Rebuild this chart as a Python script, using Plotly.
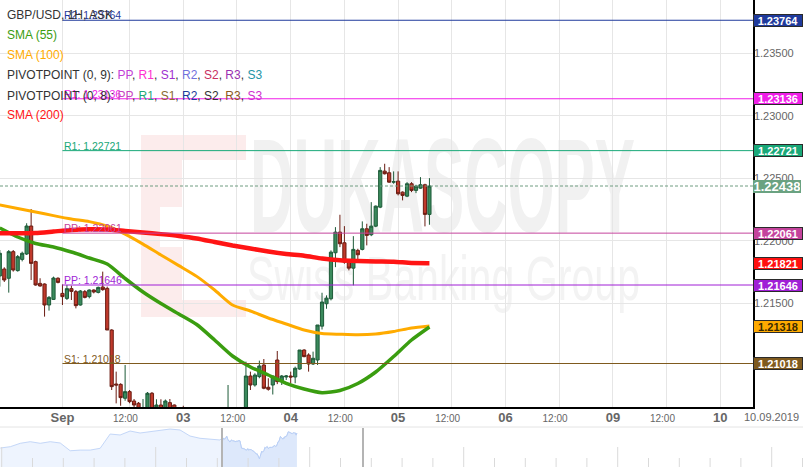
import base64
import pandas as pd
import plotly.graph_objects as go

# ---------------- DATA ----------------
# hourly GBP/USD candles, first bar = 2019-08-30 07:00 (weekend hours skipped)
open_ = [1.21718, 1.21774, 1.21700, 1.21913, 1.21761, 1.21851, 1.21894, 1.22118, 1.21833, 1.21659,
         1.21654, 1.21486, 1.21531, 1.21700, 1.21579, 1.21539, 1.21617, 1.21593, 1.21486, 1.21593,
         1.21553, 1.21606, 1.21587, 1.21630, 1.21619, 1.21286, 1.20854, 1.20851, 1.20740, 1.20793,
         1.20718, 1.20700, 1.20600, 1.20600, 1.20780, 1.20640, 1.20686, 1.20640, 1.20705, 1.20686,
         1.20600, 1.20560, 1.20480, 1.20400, 1.20300, 1.20200, 1.20250, 1.20100, 1.19900, 1.19700,
         1.19950, 1.20150, 1.20500, 1.20400, 1.20500, 1.20600, 1.20918, 1.20846, 1.20913, 1.21006,
         1.20828, 1.20846, 1.21046, 1.20880, 1.20910, 1.20918, 1.20910, 1.20974, 1.21126, 1.21086,
         1.21014, 1.21046, 1.21317, 1.21496, 1.21536, 1.21904, 1.22069, 1.21984, 1.21829, 1.21781,
         1.21923, 1.21931, 1.22096, 1.22048, 1.22117, 1.22269, 1.22557, 1.22544, 1.22469, 1.22477,
         1.22389, 1.22357, 1.22456, 1.22403, 1.22421, 1.22448, 1.22211]
high_ = [1.21926, 1.21788, 1.21926, 1.21926, 1.21886, 1.21913, 1.22140, 1.22254, 1.21841, 1.21700,
         1.21659, 1.21558, 1.21713, 1.21708, 1.21651, 1.21646, 1.21641, 1.21606, 1.21606, 1.21606,
         1.21611, 1.21611, 1.21633, 1.21753, 1.21633, 1.21292, 1.20953, 1.20860, 1.21006, 1.20806,
         1.20734, 1.20710, 1.20734, 1.20790, 1.20790, 1.20732, 1.20732, 1.20730, 1.20734, 1.20690,
         1.20640, 1.20680, 1.20520, 1.20450, 1.20350, 1.20300, 1.20280, 1.20150, 1.20000, 1.20000,
         1.20200, 1.20846, 1.20600, 1.20550, 1.20650, 1.21033, 1.20953, 1.20940, 1.21041, 1.21054,
         1.20900, 1.20900, 1.21118, 1.20926, 1.20926, 1.20953, 1.20993, 1.21126, 1.21132, 1.21100,
         1.21113, 1.21326, 1.21584, 1.21563, 1.21923, 1.22109, 1.22208, 1.22117, 1.21843, 1.22037,
         1.21936, 1.22155, 1.22136, 1.22309, 1.22282, 1.22589, 1.22616, 1.22589, 1.22555, 1.22555,
         1.22395, 1.22469, 1.22469, 1.22448, 1.22509, 1.22456, 1.22501]
low_ = [1.21633, 1.21670, 1.21585, 1.21753, 1.21753, 1.21835, 1.21886, 1.21686, 1.21641, 1.21633,
        1.21393, 1.21441, 1.21526, 1.21659, 1.21486, 1.21526, 1.21526, 1.21459, 1.21481, 1.21539,
        1.21539, 1.21579, 1.21579, 1.21600, 1.21286, 1.20806, 1.20699, 1.20680, 1.20720, 1.20700,
        1.20660, 1.20580, 1.20560, 1.20580, 1.20590, 1.20620, 1.20610, 1.20620, 1.20600, 1.20560,
        1.20500, 1.20450, 1.20350, 1.20250, 1.20150, 1.20100, 1.20050, 1.19800, 1.19580, 1.19650,
        1.19850, 1.20100, 1.20300, 1.20250, 1.20450, 1.20550, 1.20806, 1.20833, 1.20900, 1.20812,
        1.20801, 1.20770, 1.20853, 1.20846, 1.20886, 1.20860, 1.20860, 1.20968, 1.21068, 1.20953,
        1.21006, 1.21006, 1.21290, 1.21456, 1.21523, 1.21789, 1.21949, 1.21816, 1.21763, 1.21643,
        1.21843, 1.21923, 1.21963, 1.22037, 1.22109, 1.22261, 1.22530, 1.22464, 1.22456, 1.22363,
        1.22323, 1.22349, 1.22389, 1.22381, 1.22416, 1.22115, 1.22128]
close_ = [1.21900, 1.21686, 1.21913, 1.21766, 1.21873, 1.21900, 1.22118, 1.21819, 1.21646, 1.21638,
          1.21486, 1.21547, 1.21702, 1.21667, 1.21553, 1.21617, 1.21595, 1.21481, 1.21598, 1.21547,
          1.21606, 1.21590, 1.21627, 1.21609, 1.21286, 1.20833, 1.20846, 1.20745, 1.20793, 1.20713,
          1.20686, 1.20620, 1.20640, 1.20780, 1.20620, 1.20686, 1.20640, 1.20718, 1.20620, 1.20600,
          1.20550, 1.20480, 1.20400, 1.20300, 1.20200, 1.20250, 1.20100, 1.19900, 1.19700, 1.19950,
          1.20150, 1.20500, 1.20400, 1.20500, 1.20600, 1.20918, 1.20846, 1.20926, 1.20998, 1.20820,
          1.20812, 1.20918, 1.20873, 1.20918, 1.20918, 1.20910, 1.20980, 1.21126, 1.21073, 1.21014,
          1.21060, 1.21326, 1.21510, 1.21541, 1.21909, 1.22069, 1.21976, 1.21829, 1.21781, 1.21931,
          1.21888, 1.22096, 1.22043, 1.22117, 1.22277, 1.22563, 1.22536, 1.22469, 1.22472, 1.22376,
          1.22363, 1.22456, 1.22403, 1.22437, 1.22448, 1.22211, 1.22438]

# moving averages sampled every 4 bars (bar 0, 4, 8, ... 96)
sma_step = 4
sma55 = [1.22102, 1.22030, 1.21978, 1.21950, 1.21910, 1.21862, 1.21814, 1.21698, 1.21590, 1.21498,
         1.21414, 1.21330, 1.21206, 1.21078, 1.20990, 1.20926, 1.20859, 1.20814, 1.20785, 1.20802,
         1.20858, 1.20950, 1.21074, 1.21206, 1.21310]
sma100 = [1.22286, 1.22258, 1.22230, 1.22201, 1.22174, 1.22153, 1.22118, 1.22053, 1.21973, 1.21886,
          1.21801, 1.21715, 1.21606, 1.21486, 1.21438, 1.21382, 1.21334, 1.21286, 1.21258, 1.21252,
          1.21248, 1.21254, 1.21274, 1.21302, 1.21318]
sma200 = [1.22060, 1.22060, 1.22062, 1.22074, 1.22086, 1.22092, 1.22090, 1.22078, 1.22066, 1.22053,
          1.22038, 1.22018, 1.21990, 1.21962, 1.21938, 1.21914, 1.21894, 1.21880, 1.21858, 1.21844,
          1.21838, 1.21834, 1.21832, 1.21822, 1.21821]

pivot_start = "2019-09-01 21:00"
pivot_names = ["R2", "R1", "R1", "PP", "PP", "S1"]
pivot_levels = [1.23764, 1.23136, 1.22721, 1.22061, 1.21646, 1.21018]
pivot_colors = ["#1f3a9c", "#f01ee8", "#19a878", "#c4439c", "#a01fd6", "#7f5a1e"]

last_price = 1.22438
sma200_last = 1.21821
sma100_last = 1.21318

tick_times = ["2019-09-01 21:00", "2019-09-02 12:00", "2019-09-03 00:00", "2019-09-03 12:00",
              "2019-09-04 00:00", "2019-09-04 12:00", "2019-09-05 00:00", "2019-09-05 12:00",
              "2019-09-06 00:00", "2019-09-06 12:00", "2019-09-09 00:00", "2019-09-09 12:00",
              "2019-09-10 00:00"]
tick_labels = ["Sep", "12:00", "03", "12:00", "04", "12:00", "05", "12:00", "06", "12:00",
               "09", "12:00", "10"]
y_ticks = [1.215, 1.220, 1.225, 1.230, 1.235]

# navigator history (closes before the main window, evenly spaced samples)
nav_hist = [1.2085, 1.2099, 1.2135, 1.2152, 1.2135, 1.2152, 1.2138, 1.2056, 1.2063, 1.2063,
            1.2082, 1.2233, 1.2223, 1.2265, 1.2244, 1.2258, 1.2276, 1.2286, 1.2276, 1.2212,
            1.2188, 1.2177, 1.2170]
nav_hist_step = 12.8

# ---------------- TIME INDEX (weekend gap removed) ----------------
rng = pd.date_range("2019-08-30 07:00", "2019-09-10 23:00", freq="h")


def trading(t):
    wd = t.weekday()
    if wd == 5:
        return False
    if wd == 4 and t.hour >= 21:
        return False
    if wd == 6 and t.hour < 21:
        return False
    return True


times = [t for t in rng if trading(t)]
pos = {t.strftime("%Y-%m-%d %H:%M"): i for i, t in enumerate(times)}
bar_x = list(range(len(open_)))

X0, X1 = 0.045, 168.3
Y0, Y1 = 1.20670, 1.23926
W, H = 803, 467
PX = 753 / W  # right edge of plot in paper units

FONT = "Liberation Sans, Arial, sans-serif"

fig = go.Figure()

# watermark (very faint)
svg = f"""<svg xmlns='http://www.w3.org/2000/svg' width='{W}' height='{H}' viewBox='0 0 {W} {H}'>
<path fill='#fcecec' fill-rule='evenodd' d='M141,135 H246 V317 H141 Z M182,160 H246 V300 H182 Z M160,207 H182 V247 H160 Z'/>
<text x='250' y='232' font-family='Liberation Sans, Arial' font-weight='bold' font-size='133' fill='#f1f1f1' textLength='385' lengthAdjust='spacingAndGlyphs'>DUKASCOPY</text>
<text x='247' y='300' font-family='Liberation Sans, Arial' font-size='63' fill='#f3f3f3' textLength='393' lengthAdjust='spacingAndGlyphs'>Swiss Banking Group</text>
</svg>"""
img_src = "data:image/svg+xml;base64," + base64.b64encode(svg.encode()).decode()

# navigator
nav_x_hist = [-(len(nav_hist) - 1 - k) * nav_hist_step - 2.6 for k in range(len(nav_hist))]
fig.add_trace(go.Scatter(x=nav_x_hist + bar_x, y=nav_hist + close_, mode="lines",
                         line=dict(color="#c4d7f8", width=1), fill="tozeroy",
                         fillcolor="#eef4fe", xaxis="x2", yaxis="y2", hoverinfo="skip"))
fig.add_trace(go.Scatter(x=bar_x, y=close_, mode="lines",
                         line=dict(color="#b9cff6", width=1), fill="tozeroy",
                         fillcolor="#dde8fb", xaxis="x2", yaxis="y2", hoverinfo="skip"))

# candles
fig.add_trace(go.Candlestick(
    x=bar_x, open=open_, high=high_, low=low_, close=close_,
    increasing=dict(line=dict(color="#1d5a38", width=1), fillcolor="#3a8a5c"),
    decreasing=dict(line=dict(color="#6a1c12", width=1), fillcolor="#c0392b"),
    whiskerwidth=0, xaxis="x", yaxis="y", hoverinfo="skip"))

sma_x = [i * sma_step for i in range(len(sma55))]
for vals, col, w in [(sma100, "#ffab00", 3), (sma55, "#3a9d10", 3.5), (sma200, "#ff1414", 4.5)]:
    fig.add_trace(go.Scatter(x=sma_x, y=vals, mode="lines",
                             line=dict(color=col, width=w, shape="spline", smoothing=0.6),
                             xaxis="x", yaxis="y", hoverinfo="skip"))

shapes = []
annotations = []
p0 = pos[pivot_start]
for name, lvl, col in zip(pivot_names, pivot_levels, pivot_colors):
    shapes.append(dict(type="line", xref="x", yref="y", x0=p0, x1=X1, y0=lvl, y1=lvl,
                       line=dict(color=col, width=1)))
    annotations.append(dict(xref="x", yref="y", x=p0, y=lvl, xanchor="left", yanchor="bottom",
                            text=f"{name}: {lvl:.5f}", showarrow=False, yshift=-3,
                            font=dict(family=FONT, size=10.5, color=col)))

# current price dashed line
shapes.append(dict(type="line", xref="paper", yref="y", x0=0, x1=PX, y0=last_price, y1=last_price,
                   line=dict(color="#6f9c80", width=1, dash="3px,2px")))

# navigator decorations
nav_top = 40 / H
shapes.append(dict(type="line", xref="paper", yref="paper", x0=0, x1=1, y0=nav_top, y1=nav_top,
                   line=dict(color="#e4e4e4", width=1)))
for k in range(27):
    xx = (1.7 + 30.8 * k) / W
    ytop = 20 / H if k % 5 == 0 else 9 / H
    shapes.append(dict(type="line", xref="paper", yref="paper", x0=xx, x1=xx, y0=0, y1=ytop,
                       line=dict(color="#dadada", width=1)))
for hx in (222, 363):
    shapes.append(dict(type="line", xref="paper", yref="paper", x0=hx / W, x1=hx / W, y0=0,
                       y1=39 / H, line=dict(color="#b4b4b4", width=2)))


def right_label(v, bg, fg="white", border="#2a2a2a", size=11, h=9, bw=1):
    return dict(xref="paper", x=PX, xanchor="left", yref="y", y=v, yanchor="middle",
                text=f"<b>{v:.5f}</b>", showarrow=False, bgcolor=bg, bordercolor=border,
                borderwidth=bw, borderpad=1, width=46, height=h, align="center",
                font=dict(family=FONT, size=size, color=fg))


for lvl, col in zip(pivot_levels, pivot_colors):
    annotations.append(right_label(lvl, col))
annotations.append(right_label(sma200_last, "#ff1010"))
annotations.append(right_label(sma100_last, "#ffaa00", fg="#3a2a00"))
annotations.append(right_label(last_price, "#6aa281", border="#6aa281", size=13, h=11, bw=0))

# legend block
c = "#333333"


def span(t, col):
    return f"<span style='color:{col}'>{t}</span>"


piv9 = ["#c23fd6", "#ff2fd0", "#a02fd0", "#7272dc", "#c9305f", "#9930b0", "#2394a6"]
piv8 = ["#c845c0", "#1fa877", "#8a6a30", "#213b9b", "#333333", "#8a5a20", "#d030d0"]
names = ["PP", "R1", "S1", "R2", "S2", "R3", "S3"]
legend_lines = [
    ("GBP/USD, 1H, ASK", 15),
    (span("SMA (55)", "#3a9d10"), 35),
    (span("SMA (100)", "#ffab00"), 55),
    ("PIVOTPOINT (0, 9): " + ", ".join(span(n, cc) for n, cc in zip(names, piv9)), 75),
    ("PIVOTPOINT (0, 8): " + ", ".join(span(n, cc) for n, cc in zip(names, piv8)), 95.5),
    (span("SMA (200)", "#ff1414"), 115),
]
for txt, yy in legend_lines:
    annotations.append(dict(xref="paper", yref="paper", x=5 / W, y=(H - yy) / H, xanchor="left",
                            yanchor="middle", text=txt, showarrow=False,
                            font=dict(family=FONT, size=12, color=c)))

annotations.append(dict(xref="paper", yref="paper", x=801 / W, y=(H - 417) / H, xanchor="right",
                        yanchor="middle", text="10.09.2019", showarrow=False,
                        font=dict(family=FONT, size=11, color="#666666")))

tickvals = [pos[t] for t in tick_times]
ticktext = [("<span style='font-size:10px'>" + l + "\u00a0\u00a0\u00a0</span>") if ":" in l
            else f"<b>{l}</b>" for l in tick_labels]

fig.update_layout(
    width=W, height=H, margin=dict(l=0, r=0, t=0, b=0),
    paper_bgcolor="white", plot_bgcolor="white", showlegend=False,
    boxgap=0.25, boxgroupgap=0.05,
    images=[dict(source=img_src, xref="paper", yref="paper", x=0, y=1, sizex=1, sizey=1,
                 xanchor="left", yanchor="top", sizing="stretch", layer="below")],
    xaxis=dict(domain=[0, PX], range=[X0, X1], anchor="y", rangeslider=dict(visible=False),
               tickvals=tickvals, ticktext=ticktext, showgrid=True, gridcolor="#e6e6e6",
               gridwidth=1, showline=True, linecolor="black", linewidth=2, ticks="",
               zeroline=False, tickfont=dict(family=FONT, size=13, color="#666666"),
               ticklabelstandoff=-3),
    yaxis=dict(domain=[(H - 407) / H, 1], range=[Y0, Y1], anchor="x", side="right",
               tickvals=y_ticks, ticktext=[f"{v:.5f}" for v in y_ticks], showgrid=True,
               gridcolor="#e6e6e6", showline=True, linecolor="black", linewidth=1.5, ticks="",
               zeroline=False, tickfont=dict(family=FONT, size=11, color="#666666"),
               ticklabelstandoff=-3),
    xaxis2=dict(domain=[0, 1], range=[-284.6, 744.9], anchor="y2", visible=False),
    yaxis2=dict(domain=[0, 39 / H], range=[1.1884, 1.2297], anchor="x2", visible=False),
    shapes=shapes, annotations=annotations,
)

fig.write_html("out.html", config={"displayModeBar": False},
               post_script="document.body.style.margin='0';document.body.style.padding='0';")
